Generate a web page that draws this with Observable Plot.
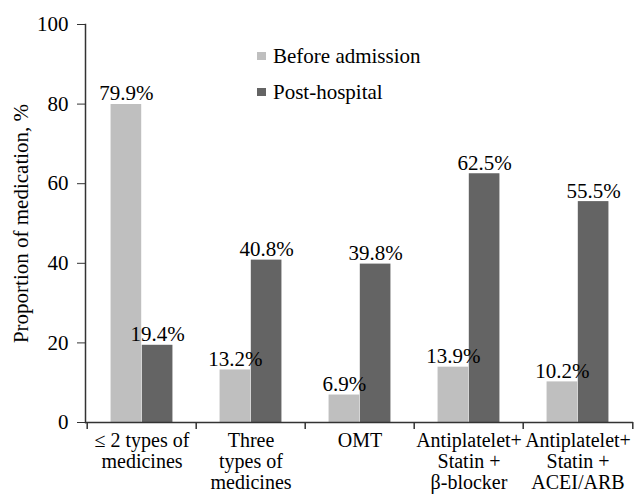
<!DOCTYPE html>
<html>
<head>
<meta charset="utf-8">
<script src="https://cdn.jsdelivr.net/npm/d3@7"></script>
<script src="https://cdn.jsdelivr.net/npm/@observablehq/plot@0.6"></script>
<style>
  body { margin: 0; background: #fff; }
  #chart { position: relative; width: 637px; height: 497px; font-family: 'Liberation Serif', serif; }
  .legend { position: absolute; left: 257px; font-size: 21px; color: #000; line-height: 1; font-family: 'Liberation Serif', serif; }
  .legend .item { display: flex; align-items: center; height: 20px; margin-bottom: 16px; }
  .legend .sw { width: 9px; height: 8px; margin-right: 7px; }
</style>
</head>
<body>
<div id="chart"></div>
<script>
// Medication groups (multi-line axis labels)
const categories = [
  "≤ 2 types of\nmedicines",
  "Three\ntypes of\nmedicines",
  "OMT",
  "Antiplatelet+\nStatin +\nβ-blocker",
  "Antiplatelet+\nStatin +\nACEI/ARB"
];
const seriesNames = ["Before admission", "Post-hospital"];
const beforeAdmission = [79.9, 13.2, 6.9, 13.9, 10.2];
const postHospital = [19.4, 40.8, 39.8, 62.5, 55.5];
const yTicks = [0, 20, 40, 60, 80, 100];
const colors = ["#bfbfbf", "#646464"];

const SERIF = "Liberation Serif, serif";
const FS = 21;
const W = 637, H = 497;
const margin = {top: 24, right: 4, bottom: 75, left: 85};
const band = (W - margin.left - margin.right) / categories.length;
const barW = band * 0.285;

const before = categories.map((c, i) => ({category: c, value: beforeAdmission[i]}));
const post = categories.map((c, i) => ({category: c, value: postHospital[i]}));

const fmt = v => v.toFixed(1) + "%";

const plot = Plot.plot({
  width: W,
  height: H,
  marginTop: margin.top,
  marginRight: margin.right,
  marginBottom: margin.bottom,
  marginLeft: margin.left,
  style: {fontFamily: SERIF, fontSize: FS + "px", color: "#000", background: "#fff", overflow: "visible"},
  x: {domain: categories, padding: 0},
  y: {domain: [0, 100]},
  marks: [
    // bars: the two series sit side by side in the middle of each group
    Plot.barY(before, {x: "category", y: "value", fill: colors[0],
      insetLeft: band / 2 - barW, insetRight: band / 2}),
    Plot.barY(post, {x: "category", y: "value", fill: colors[1],
      insetLeft: band / 2, insetRight: band / 2 - barW}),
    // value labels above each bar
    Plot.text(before, {x: "category", y: "value", text: d => fmt(d.value),
      dx: -barW / 2, dy: -4, lineAnchor: "bottom", fontSize: FS, fontFamily: SERIF, fill: "#000"}),
    Plot.text(post, {x: "category", y: "value", text: d => fmt(d.value),
      dx: barW / 2, dy: -4, lineAnchor: "bottom", fontSize: FS, fontFamily: SERIF, fill: "#000"}),
    // y axis
    Plot.axisY({ticks: yTicks, tickSize: 8, tickPadding: 9, stroke: "#333",
      label: "Proportion of medication, %", labelAnchor: "center", labelArrow: "none",
      labelOffset: 72, fontSize: FS, fontFamily: SERIF}),
    Plot.frame({anchor: "left", stroke: "#333", strokeWidth: 1.5}),
    // x baseline and group boundary ticks
    Plot.ruleY([0], {stroke: "#333", strokeWidth: 1.5}),
    Plot.ruleX(categories, {x: d => d, y1: 0, y2: 0, dx: -band / 2, insetBottom: -7, stroke: "#333", strokeWidth: 1.5}),
    Plot.ruleX(categories.slice(-1), {x: d => d, y1: 0, y2: 0, dx: band / 2, insetBottom: -7, stroke: "#333", strokeWidth: 1.5}),
    // category labels
    Plot.axisX({tickSize: 0, tickPadding: 10, lineHeight: 1.05, label: null, fontSize: 20, fontFamily: SERIF})
  ]
});

const chart = document.getElementById("chart");
chart.appendChild(plot);

// legend placed inside the plot area
const legend = document.createElement("div");
legend.className = "legend";
legend.style.top = "46px";
seriesNames.forEach((name, i) => {
  const item = document.createElement("div");
  item.className = "item";
  const sw = document.createElement("span");
  sw.className = "sw";
  sw.style.background = colors[i];
  const label = document.createElement("span");
  label.textContent = name;
  item.appendChild(sw);
  item.appendChild(label);
  legend.appendChild(item);
});
chart.appendChild(legend);
</script>
</body>
</html>
